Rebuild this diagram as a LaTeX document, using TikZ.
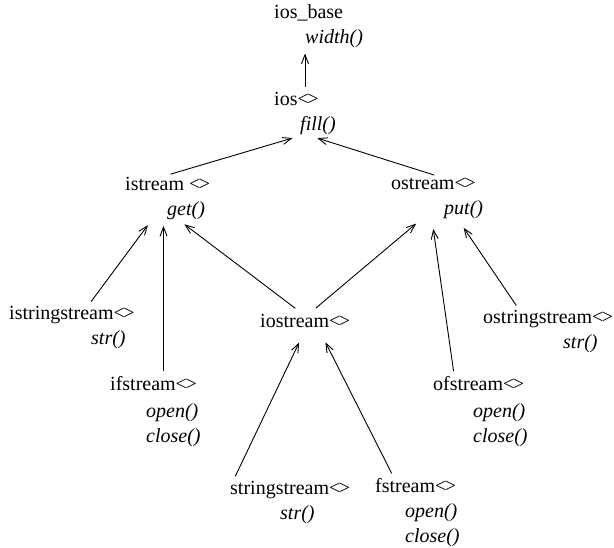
\documentclass[tikz,border=0pt]{standalone}
\usepackage{fontspec}
\setmainfont{Liberation Serif}
\usetikzlibrary{arrows.meta}

\newcommand{\tmpl}{<\kern-1.5pt>}

\begin{document}
\begin{tikzpicture}[x=1pt, y=-1pt]
    \tikzset{
      cls/.style = {anchor=north west, inner sep=2pt, align=left, font=\fontsize{20}{25}\selectfont},
      arrow/.style = {line width=0.9pt, -{Straight Barb[length=9pt, width=7pt]}, shorten <=3pt, shorten >=4pt}
    }
    \useasboundingbox (0,0) rectangle (614,548);

    \node (ios_base) [cls] at (272,2) {ios\_base\\\hspace*{31pt}\textit{width()}};
    \node (ios) [cls] at (272,90) {ios\tmpl\\\hspace*{26pt}\textit{fill()}};
    \node (istream) [cls] at (123,175) {istream~\tmpl\\\hspace*{42pt}\textit{get()}};
    \node (ostream) [cls] at (389,176) {ostream\tmpl\\\hspace*{53pt}\textit{put()}};
    \node (istringstream) [cls] at (7,304) {istringstream\tmpl\\\hspace*{82pt}\textit{str()}};
    \node (ifstream) [cls] at (108,374) {ifstream\tmpl\\[2pt]\hspace*{36pt}\textit{open()}\\\hspace*{36pt}\textit{close()}};
    \node (iostream) [cls] at (258,312) {iostream\tmpl};
    \node (ofstream) [cls] at (431,374) {ofstream\tmpl\\[2pt]\hspace*{40pt}\textit{open()}\\\hspace*{40pt}\textit{close()}};
    \node (ostringstream) [cls] at (481,308) {ostringstream\tmpl\\\hspace*{80pt}\textit{str()}};
    \node (stringstream) [cls] at (228,479) {stringstream\tmpl\\\hspace*{50pt}\textit{str()}};
    \node (fstream) [cls] at (373,476) {fstream\tmpl\\\hspace*{30pt}\textit{open()}\\\hspace*{30pt}\textit{close()}};

    % upper levels
    \draw [arrow] (ios.north) -- (ios.north |- ios_base.south);
    \draw [arrow] (istream.north) -- (ios.-110);
    \draw [arrow] (ostream.north) -- (ios.-70);
    % into istream
    \draw [arrow] (istringstream) -- (istream);
    \draw [arrow] (ifstream.north -| istream.-100) -- (istream.-100);
    \draw [arrow, shorten <=6pt] ([xshift=-5pt]iostream.north) -- (istream.-60);
    % into ostream
    \draw [arrow, shorten <=6pt] ([xshift=6pt]iostream.north) -- ([xshift=-18pt]ostream.south);
    \draw [arrow, shorten >=8pt] ([xshift=23pt]ofstream.north west) -- ([xshift=-5pt]ostream.south);
    \draw [arrow, shorten >=8pt] ([xshift=37pt]ostringstream.north west) -- ([xshift=22pt]ostream.south);
    % into iostream
    \draw [arrow, shorten >=14pt] ([xshift=6pt]stringstream.north west) -- (iostream.south);
    \draw [arrow, shorten >=14pt] ([xshift=20pt]fstream.north west) -- ([xshift=14pt]iostream.south);
\end{tikzpicture}
\end{document}
